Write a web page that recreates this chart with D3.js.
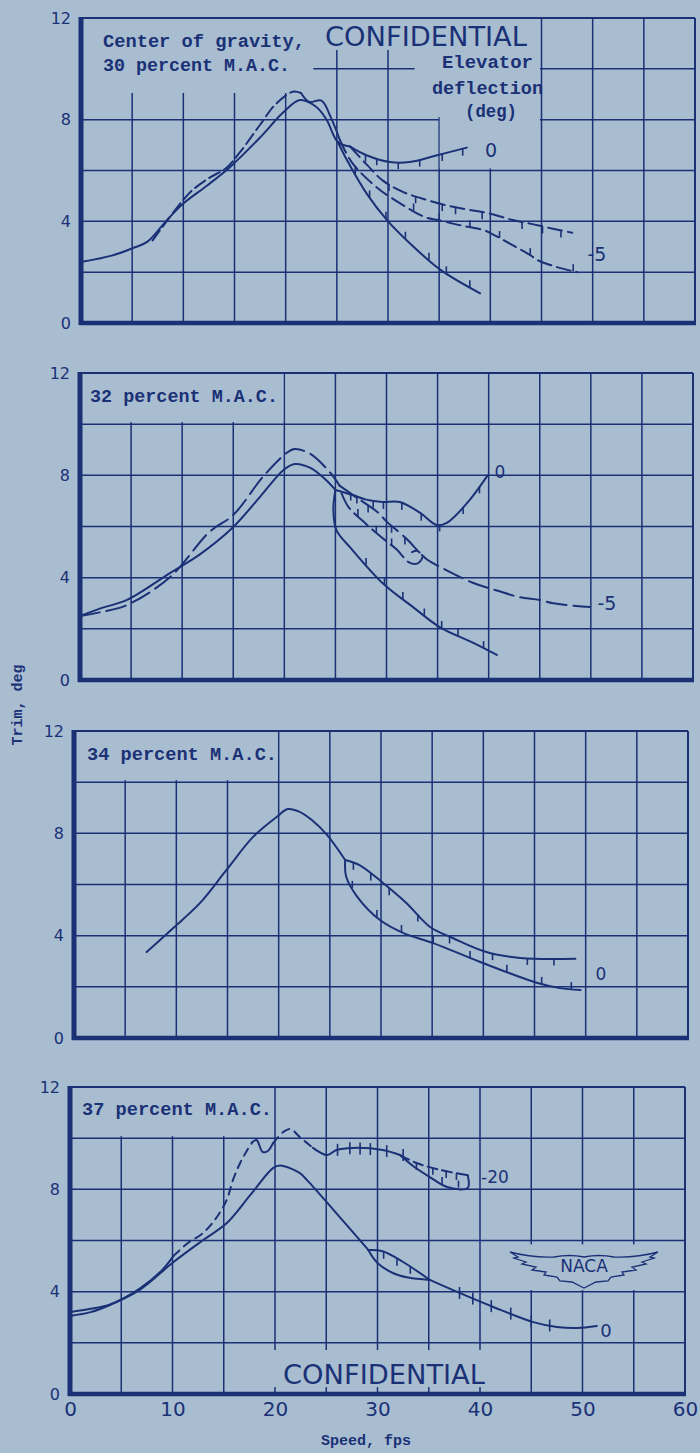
<!DOCTYPE html>
<html><head><meta charset="utf-8">
<script src="https://cdn.jsdelivr.net/npm/d3@7"></script>
<style>body{margin:0;background:#a9bdd1}svg{display:block}</style>
</head><body>
<svg id="c" width="700" height="1453"></svg>
<script>
// ---------------- DATA (speed fps, trim deg) ----------------
const xTickValues = [0, 10, 20, 30, 40, 50, 60];
const yTickValues = [0, 4, 8, 12];
const panelTitles = ["30 percent M.A.C.", "32 percent M.A.C.", "34 percent M.A.C.", "37 percent M.A.C."];

// Panel 1: c.g. 30 percent M.A.C.
const p1Zero = [[0,2.4],[3,2.65],[5.1,2.95],[6.5,3.2],[8.4,4.05],[10,4.7],[12.3,5.4],[14.6,6.15],[17.5,7.3],[19.8,8.3],[21.4,8.77],[23,8.5],[24,8.0],[25.1,7.12],[26.3,6.94]];
const p1ZeroUpper = [[26.3,6.94],[27.9,6.6],[30.2,6.33],[32.1,6.33],[34.8,6.6],[37.7,6.9]];
const p1ZeroLower = [[25.1,7.12],[26,6.4],[27.9,5.1],[29.9,4.05],[32.1,3.15],[35.1,2.1],[39,1.17]];
const p1Minus5 = [[7,3.25],[8,3.8],[10,4.85],[10.8,5.2],[12.5,5.7],[14.2,6.1],[15.5,6.7],[17.5,7.8],[19,8.6],[20.7,9.1],[21.5,9.05]];
const p1Minus5Bump = [[21.5,9.05],[22.3,8.7],[23.5,8.75],[24.4,8.1],[25.3,7.2]];
const p1Minus5Upper = [[26.3,6.94],[28,6.2],[29.5,5.6],[31.5,5.15],[33.8,4.84],[36,4.6],[38,4.45],[40,4.3],[42.2,4.05],[44,3.9],[46,3.72],[48,3.55]];
const p1Minus5Lower = [[25.3,7.2],[26.5,6.3],[29,5.3],[30.2,4.96],[33.6,4.17],[34.9,4.05],[37,3.85],[39.3,3.66],[40,3.54],[42,3.1],[43.9,2.67],[44.6,2.48],[46.5,2.2],[48.5,2.0]];
const p1ZeroUpperTicks = [27.8,28.9,31,33.1,35.3,37.3];
const p1ZeroLowerTicks = [26.8,28.2,29.8,31.7,34,35.7,38];
const p1M5UpperTicks = [30.1,32.7,35.3,36.6,39.2,43.1,45.1,46.9];
const p1M5LowerTicks = [32.5,35,38,40.9,43.9,48.1];

// Panel 2: c.g. 32 percent M.A.C.
const p2Zero = [[0,2.5],[2,2.8],[4.6,3.13],[8.8,4.18],[11.7,4.9],[14.9,5.94],[17.6,7.15],[19.9,8.2],[21,8.44],[22.5,8.3],[24,7.85],[25,7.43]];
const p2ZeroUpper = [[25,7.43],[26.7,7.23],[28,7.05],[29.6,6.96],[31.3,6.96],[33.3,6.53],[34.9,6.06],[35.9,6.14],[37.9,6.92],[39.9,8.0]];
const p2ZeroLower = [[25,7.43],[24.8,6.65],[25.1,5.86],[26.4,5.2],[29.6,3.79],[32.6,2.85],[35.2,2.07],[38.5,1.45],[40.8,0.98]];
const p2Minus5 = [[0,2.5],[2,2.65],[4.6,2.93],[8.8,4.02],[12.7,5.8],[15,6.45],[17.9,7.94],[20.2,8.87],[21,9.03],[22.5,8.85],[24.5,8.1],[25.4,7.6]];
const p2Minus5Upper = [[25.4,7.6],[27,7.15],[29.1,6.57],[30,6.2],[32,5.5],[33.3,4.95],[34,4.7],[35.2,4.43],[38.5,3.79],[40.8,3.5],[43,3.24],[45,3.13],[46.3,3.0],[49.9,2.85]];
const p2Minus5Lower = [[25.6,7.3],[26.3,6.75],[28,6.1],[29.6,5.55],[31,5.1],[32.2,4.6],[33,4.55],[33.5,4.8],[33,5.05],[32.5,5.0]];
const p2ZeroUpperTicks = [27.1,28.7,29.7,31.5,33.4,35.2,37.5,39.1];
const p2ZeroLowerTicks = [28,29.8,31.6,33.7,35.4,37,39.5];
const p2M5UpperTicks = [26.5,28.2,30.5,31.8];
const p2M5LowerTicks = [27.2,29,30.5];

// Panel 3: c.g. 34 percent M.A.C.
const p3Zero = [[7.1,3.36],[9.7,4.3],[12.3,5.27],[14.9,6.57],[17.5,7.86],[19.8,8.64],[20.9,8.95],[22,8.85],[23.3,8.5],[24.7,7.95],[26.5,6.96]];
const p3ZeroUpper = [[26.5,6.96],[27.9,6.76],[30.2,6.06],[32.5,5.27],[34.8,4.34],[37,3.91],[40.3,3.36],[43.6,3.13],[49,3.1]];
const p3ZeroLower = [[26.5,6.96],[26.6,6.3],[27.7,5.51],[29.9,4.61],[32.2,4.1],[35.1,3.71],[39.7,2.97],[45.3,2.15],[47.5,1.95],[49.5,1.88]];
const p3ZeroUpperTicks = [27.3,29,30.8,33.6,36.7,40.9,44.3,46.9];
const p3ZeroLowerTicks = [27.2,29.6,32,35.1,38.7,42.3,45.7,48.6];

// Panel 4: c.g. 37 percent M.A.C.
const p4Zero = [[0,3.05],[2,3.2],[3.9,3.48],[6.8,4.07],[10.1,5.16],[13,6.02],[15.3,6.68],[17.6,7.78],[19.8,8.83],[20.5,8.93],[22.4,8.64],[23.1,8.37],[25.7,7.2],[29.1,5.63]];
const p4ZeroUpper = [[29.1,5.63],[30.5,5.58],[32.5,5.16],[35.1,4.46]];
const p4ZeroLower = [[29.1,5.63],[30,5.12],[31.5,4.73],[33,4.55],[35.1,4.46]];
const p4ZeroTail = [[35.1,4.46],[38,3.95],[41.3,3.4],[45.2,2.81],[47.5,2.62],[49.5,2.58],[51.4,2.66]];
const p4Minus20Start = [[0,3.2],[2,3.33],[3.9,3.5],[6.8,4.12],[9,4.85],[10.1,5.4]];
const p4Minus20Rise = [[10.1,5.4],[11.5,5.9],[13,6.3],[14.3,6.9],[15.3,7.6],[15.9,8.37],[16.6,9.03],[17.3,9.54],[17.8,9.85]];
const p4Minus20Wave = [[17.8,9.85],[18.2,9.93],[18.8,9.46],[19.3,9.5],[19.8,9.8]];
const p4Minus20Crest = [[19.8,9.8],[20.8,10.24],[21.5,10.36],[22.4,10.05],[23.7,9.62]];
const p4Minus20Plateau = [[23.7,9.62],[25.1,9.34],[26,9.54],[27.6,9.62],[30.5,9.54],[32.2,9.34]];
const p4Minus20Upper = [[32.2,9.34],[33.8,9.03],[36.1,8.76],[38.7,8.56]];
const p4Minus20Lower = [[32.2,9.34],[33.5,8.9],[35.1,8.48],[36.8,8.09],[38.8,8.05],[38.8,8.56]];
const p4M20PlateauTicks = [26.1,27.3,28.3,29.3,30.9,32.5];
const p4M20UpperTicks = [33.8,35.4,36.7,37.7];
const p4M20LowerTicks = [36.3,37.9];
const p4ZeroUpperTicks = [30.6,31.9,33.2];
const p4ZeroTailTicks = [38,39.3,41.1,43,45,46.8];

// ---------------- DRAWING ----------------
const INK = "#1a3176", BG = "#a9bdd1";
const svg = d3.select("#c");
svg.append("rect").attr("width", 700).attr("height", 1453).attr("fill", BG);

const panels = [
  {left:81, right:695, top:18, bottom:323,
   masks:[[0,22.7,12,9.05],[21.4,43.9,12,10.74],[32.6,44.85,10.74,8.1],[35.05,44.85,8.1,6.08]]},
  {left:80, right:693, top:373, bottom:680, masks:[[0,19.9,12,10.08]]},
  {left:74, right:688, top:731, bottom:1038, masks:[[0,19.9,12,10.08]]},
  {left:70, right:685, top:1087, bottom:1394,
   masks:[[0,19.9,12,10.08],[19.7,40.8,1.72,0.27],[42.4,58,5.85,4.06]]}
];

function yAt(curve, fx){
  for(let i=0;i<curve.length-1;i++){
    const a=curve[i], b=curve[i+1];
    if(a[0]!==b[0] && (fx-a[0])*(fx-b[0])<=0) return a[1]+(b[1]-a[1])*(fx-a[0])/(b[0]-a[0]);
  }
  return curve[curve.length-1][1];
}

panels.forEach((p, i) => {
  const x = d3.scaleLinear().domain([0,60]).range([p.left,p.right]);
  const y = d3.scaleLinear().domain([0,12]).range([p.bottom,p.top]);
  const g = svg.append("g");

  g.selectAll(null).data(d3.range(5,60,5)).join("line")
    .attr("x1",d=>x(d)).attr("x2",d=>x(d)).attr("y1",y(12)).attr("y2",y(0))
    .attr("stroke",INK).attr("stroke-width",1.5);
  g.selectAll(null).data(d3.range(2,12,2)).join("line")
    .attr("x1",x(0)).attr("x2",x(60)).attr("y1",d=>y(d)).attr("y2",d=>y(d))
    .attr("stroke",INK).attr("stroke-width",1.5);

  g.selectAll(null).data(p.masks).join("rect")
    .attr("x",d=>x(d[0])).attr("width",d=>x(d[1])-x(d[0]))
    .attr("y",d=>y(d[2])).attr("height",d=>y(d[3])-y(d[2]))
    .attr("fill",BG);

  g.append("line").attr("x1",x(0)).attr("x2",x(60)).attr("y1",y(12)).attr("y2",y(12)).attr("stroke",INK).attr("stroke-width",2);
  g.append("line").attr("x1",x(60)).attr("x2",x(60)).attr("y1",y(12)).attr("y2",y(0)).attr("stroke",INK).attr("stroke-width",2);
  g.append("line").attr("x1",x(0)-2).attr("x2",x(60)+1).attr("y1",y(0)).attr("y2",y(0)).attr("stroke",INK).attr("stroke-width",4.5);
  g.append("line").attr("x1",x(0)).attr("x2",x(0)).attr("y1",y(12)-1).attr("y2",y(0)+2).attr("stroke",INK).attr("stroke-width",5);

  const ya = g.append("g").attr("transform",`translate(${x(0)},0)`)
    .call(d3.axisLeft(y).tickValues(yTickValues).tickSize(0).tickPadding(10));
  ya.select(".domain").remove();
  ya.selectAll("text").attr("fill",INK).style("font-family","DejaVu Sans, sans-serif").style("font-size","16px");

  if(i===3){
    const xa = g.append("g").attr("transform",`translate(0,${y(0)})`)
      .call(d3.axisBottom(x).tickValues(xTickValues).tickSize(0).tickPadding(8));
    xa.select(".domain").remove();
    xa.selectAll("text").attr("fill",INK).style("font-family","DejaVu Sans, sans-serif").style("font-size","20px");
  }

  g.append("text").attr("x",[103,90,87,82][i]).attr("y",[71,402,760,1115][i])
    .attr("textLength",[187,188,190,190][i]).attr("lengthAdjust","spacingAndGlyphs")
    .attr("fill",INK).style("font-family","Liberation Mono, monospace").style("font-weight","bold").style("font-size","19px")
    .text(panelTitles[i]);

  p.x = x; p.y = y; p.g = g;
});

function curve(pi, data, dash, w){
  const p = panels[pi];
  const line = d3.line().x(d=>p.x(d[0])).y(d=>p.y(d[1])).curve(d3.curveCatmullRom.alpha(0.5));
  p.g.append("path").datum(data).attr("d",line).attr("fill","none").attr("stroke",INK)
    .attr("stroke-width",w||2).attr("stroke-linecap","round").attr("stroke-linejoin","round")
    .attr("stroke-dasharray",dash||null);
}
function ticks(pi, data, list, dir){
  const p = panels[pi];
  p.g.selectAll(null).data(list).join("line")
    .attr("x1",d=>p.x(d)).attr("x2",d=>p.x(d))
    .attr("y1",d=>p.y(yAt(data,d)) + (dir===0?-6:0))
    .attr("y2",d=>p.y(yAt(data,d)) + (dir===0?6:dir*7))
    .attr("stroke",INK).attr("stroke-width",1.6);
}
function label(pi, tx, ty, s, size){
  panels[pi].g.append("text").attr("x",tx).attr("y",ty).attr("text-anchor","middle").attr("dominant-baseline","central")
    .attr("fill",INK).style("font-family","DejaVu Sans, sans-serif").style("font-size",(size||18)+"px").text(s);
}

curve(0,p1Zero); curve(0,p1ZeroUpper); curve(0,p1ZeroLower);
curve(0,p1Minus5,"12,5"); curve(0,p1Minus5Bump); curve(0,p1Minus5Upper,"14,6"); curve(0,p1Minus5Lower,"14,6");
ticks(0,p1ZeroUpper,p1ZeroUpperTicks,1); ticks(0,p1ZeroLower,p1ZeroLowerTicks,-1);
ticks(0,p1Minus5Upper,p1M5UpperTicks,1); ticks(0,p1Minus5Lower,p1M5LowerTicks,-1);
label(0,491,150,"0",19); label(0,597,254,"-5",19);

curve(1,p2Zero); curve(1,p2ZeroUpper); curve(1,p2ZeroLower);
curve(1,p2Minus5,"20,7"); curve(1,p2Minus5Upper,"20,7"); curve(1,p2Minus5Lower,"18,6");
ticks(1,p2ZeroUpper,p2ZeroUpperTicks,1); ticks(1,p2ZeroLower,p2ZeroLowerTicks,-1);
ticks(1,p2Minus5Upper,p2M5UpperTicks,1); ticks(1,p2Minus5Lower,p2M5LowerTicks,-1);
label(1,500,472,"0",17); label(1,607,603,"-5",19);

curve(2,p3Zero); curve(2,p3ZeroUpper); curve(2,p3ZeroLower);
ticks(2,p3ZeroUpper,p3ZeroUpperTicks,1); ticks(2,p3ZeroLower,p3ZeroLowerTicks,-1);
label(2,601,974,"0",17);

curve(3,p4Zero); curve(3,p4ZeroUpper); curve(3,p4ZeroLower); curve(3,p4ZeroTail);
curve(3,p4Minus20Start); curve(3,p4Minus20Rise,"8,6"); curve(3,p4Minus20Wave); curve(3,p4Minus20Crest,"8,6");
curve(3,p4Minus20Plateau); curve(3,p4Minus20Upper,"10,5"); curve(3,p4Minus20Lower);
ticks(3,p4Minus20Plateau,p4M20PlateauTicks,0); ticks(3,p4Minus20Upper,p4M20UpperTicks,1);
ticks(3,p4Minus20Lower,p4M20LowerTicks,-1); ticks(3,p4ZeroUpper,p4ZeroUpperTicks,1);
ticks(3,p4ZeroTail,p4ZeroTailTicks,0);
label(3,495,1177,"-20",17); label(3,606,1330,"0",18);

const mono = t => t.attr("fill",INK).style("font-family","Liberation Mono, monospace").style("font-weight","bold").style("font-size","19px");
mono(svg.append("text").attr("x",103).attr("y",47).attr("textLength",202).attr("lengthAdjust","spacingAndGlyphs").text("Center of gravity,"));
mono(svg.append("text").attr("x",442).attr("y",68).attr("textLength",91).attr("lengthAdjust","spacingAndGlyphs").text("Elevator"));
mono(svg.append("text").attr("x",432).attr("y",94).attr("textLength",111).attr("lengthAdjust","spacingAndGlyphs").text("deflection"));
mono(svg.append("text").attr("x",465).attr("y",117).attr("textLength",52).attr("lengthAdjust","spacingAndGlyphs").text("(deg)"));
const conf = (tx,ty) => svg.append("text").attr("x",tx).attr("y",ty).attr("textLength",202).attr("lengthAdjust","spacingAndGlyphs")
  .attr("fill",INK).style("font-family","DejaVu Sans, sans-serif").style("font-size","27px").text("CONFIDENTIAL");
conf(325,46); conf(283,1384);

svg.append("text").attr("x",366).attr("y",1445).attr("text-anchor","middle").attr("fill",INK)
  .style("font-family","Liberation Mono, monospace").style("font-weight","bold").style("font-size","15px").text("Speed, fps");
svg.append("text").attr("transform","translate(22,705) rotate(-90)").attr("text-anchor","middle").attr("fill",INK)
  .style("font-family","Liberation Mono, monospace").style("font-weight","bold").style("font-size","15px").text("Trim, deg");

const naca = svg.append("g").attr("transform","translate(584,1266)");
naca.append("path").attr("d","M -74,-14 Q -52,-8 -30,-9 Q -15,-12 0,-9 Q 15,-12 30,-9 Q 52,-8 74,-14 L 66,-9 L 70,-8 L 58,-4 L 62,-2 L 48,1 L 52,4 L 38,6 L 40,9 L 27,11 L 24,15 L 12,16 L 0,22 L -12,16 L -24,15 L -27,11 L -40,9 L -38,6 L -52,4 L -48,1 L -62,-2 L -58,-4 L -70,-8 L -66,-9 Z")
  .attr("fill","none").attr("stroke",INK).attr("stroke-width",1.3);
naca.append("text").attr("x",0).attr("y",0).attr("text-anchor","middle").attr("dominant-baseline","central")
  .attr("fill",INK).style("font-family","DejaVu Sans, sans-serif").style("font-size","17px").text("NACA");
</script>
</body></html>
